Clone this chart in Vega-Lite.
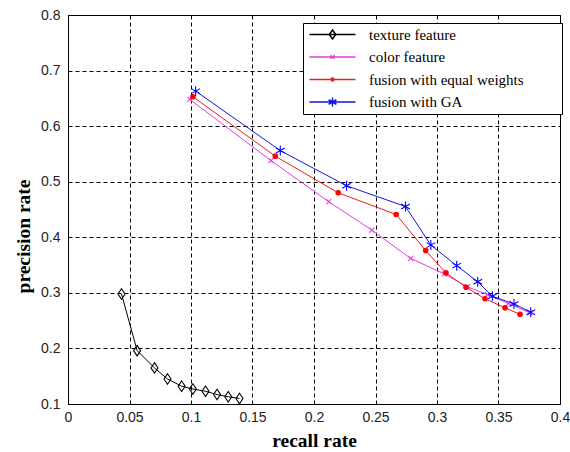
{
  "$schema": "https://vega.github.io/schema/vega-lite/v6.json",
  "width": 492,
  "height": 389,
  "autosize": {"type": "none"},
  "padding": {"left": 68, "top": 15, "right": 10, "bottom": 48},
  "background": "white",
  "config": {
    "view": {"stroke": "black", "strokeWidth": 1},
    "axis": {
      "grid": true, "gridColor": "black", "gridDash": [4, 3], "gridOpacity": 1, "gridWidth": 1,
      "domain": false, "ticks": false,
      "labelFont": "Liberation Sans", "labelFontSize": 14, "labelColor": "#222",
      "titleFont": "Liberation Serif", "titleFontSize": 19.5, "titleFontWeight": "bold", "titleColor": "black"
    },
    "legend": {
      "labelFont": "Liberation Serif", "labelFontSize": 15, "labelColor": "black"
    }
  },
  "data": {
    "values": [
      {"series": "texture feature", "x": 0.0435, "y": 0.298},
      {"series": "texture feature", "x": 0.0562, "y": 0.196},
      {"series": "texture feature", "x": 0.0703, "y": 0.165},
      {"series": "texture feature", "x": 0.0809, "y": 0.145},
      {"series": "texture feature", "x": 0.0924, "y": 0.132},
      {"series": "texture feature", "x": 0.1015, "y": 0.127},
      {"series": "texture feature", "x": 0.1118, "y": 0.123},
      {"series": "texture feature", "x": 0.1212, "y": 0.117},
      {"series": "texture feature", "x": 0.1303, "y": 0.113},
      {"series": "texture feature", "x": 0.1394, "y": 0.110},
      {"series": "color feature", "x": 0.099, "y": 0.648},
      {"series": "color feature", "x": 0.165, "y": 0.538},
      {"series": "color feature", "x": 0.212, "y": 0.464},
      {"series": "color feature", "x": 0.247, "y": 0.413},
      {"series": "color feature", "x": 0.2786, "y": 0.362},
      {"series": "color feature", "x": 0.306, "y": 0.334},
      {"series": "color feature", "x": 0.3246, "y": 0.311},
      {"series": "color feature", "x": 0.341, "y": 0.297},
      {"series": "color feature", "x": 0.358, "y": 0.281},
      {"series": "color feature", "x": 0.3756, "y": 0.264},
      {"series": "fusion with equal weights", "x": 0.1015, "y": 0.653},
      {"series": "fusion with equal weights", "x": 0.1685, "y": 0.546},
      {"series": "fusion with equal weights", "x": 0.2197, "y": 0.480},
      {"series": "fusion with equal weights", "x": 0.2668, "y": 0.441},
      {"series": "fusion with equal weights", "x": 0.2908, "y": 0.376},
      {"series": "fusion with equal weights", "x": 0.3073, "y": 0.336},
      {"series": "fusion with equal weights", "x": 0.3236, "y": 0.310},
      {"series": "fusion with equal weights", "x": 0.339, "y": 0.2895},
      {"series": "fusion with equal weights", "x": 0.3553, "y": 0.273},
      {"series": "fusion with equal weights", "x": 0.3675, "y": 0.2614},
      {"series": "fusion with GA", "x": 0.1038, "y": 0.663},
      {"series": "fusion with GA", "x": 0.1726, "y": 0.556},
      {"series": "fusion with GA", "x": 0.2265, "y": 0.4926},
      {"series": "fusion with GA", "x": 0.2744, "y": 0.4554},
      {"series": "fusion with GA", "x": 0.295, "y": 0.3859},
      {"series": "fusion with GA", "x": 0.316, "y": 0.349},
      {"series": "fusion with GA", "x": 0.3331, "y": 0.320},
      {"series": "fusion with GA", "x": 0.345, "y": 0.294},
      {"series": "fusion with GA", "x": 0.3626, "y": 0.280},
      {"series": "fusion with GA", "x": 0.3762, "y": 0.265}
    ]
  },
  "encoding": {
    "x": {
      "field": "x", "type": "quantitative",
      "scale": {"domain": [0, 0.4], "nice": false, "zero": false},
      "axis": {"values": [0, 0.05, 0.1, 0.15, 0.2, 0.25, 0.3, 0.35, 0.4], "format": "~g",
               "labelFlush": false, "labelOverlap": false, "labelPadding": 6,
               "title": "recall rate", "titleY": 42, "titleBaseline": "alphabetic"}
    },
    "y": {
      "field": "y", "type": "quantitative",
      "scale": {"domain": [0.1, 0.8], "nice": false, "zero": false},
      "axis": {"values": [0.1, 0.2, 0.3, 0.4, 0.5, 0.6, 0.7, 0.8], "format": "~g",
               "labelFlush": false, "labelOverlap": false, "labelPadding": 8,
               "title": "precision rate", "titleX": -39, "titleY": 221, "titleAngle": -90,
               "titleAlign": "center", "titleBaseline": "alphabetic"}
    }
  },
  "resolve": {"scale": {"stroke": "independent", "shape": "independent", "fill": "independent"}},
  "layer": [
    {
      "mark": {"type": "line", "strokeWidth": 1},
      "encoding": {
        "stroke": {"field": "series", "type": "nominal", "legend": null,
          "scale": {"domain": ["texture feature", "color feature", "fusion with equal weights", "fusion with GA"],
                    "range": ["#000000", "#e040e0", "#e8201e", "#1414e0"]}},
        "detail": {"field": "series"}
      }
    },
    {
      "mark": {"type": "point", "filled": true, "strokeWidth": 1.1, "opacity": 1, "size": 100},
      "encoding": {
        "stroke": {"field": "series", "type": "nominal", "legend": null,
          "scale": {"domain": ["texture feature", "color feature", "fusion with equal weights", "fusion with GA"],
                    "range": ["#000000", "#e040e0", "#ff0000", "#0000ff"]}},
        "fill": {"field": "series", "type": "nominal", "legend": null,
          "scale": {"domain": ["texture feature", "color feature", "fusion with equal weights", "fusion with GA"],
                    "range": ["transparent", "transparent", "#ff0000", "transparent"]}},
        "shape": {"field": "series", "type": "nominal", "legend": null,
          "scale": {"domain": ["texture feature", "color feature", "fusion with equal weights", "fusion with GA"],
                    "range": [
                      "M0,-1.05L0.7,0L0,1.05L-0.7,0Z",
                      "M-0.5,-0.5L0.5,0.5M-0.5,0.5L0.5,-0.5",
                      "M-0.45,0A0.45,0.45 0 1,0 0.45,0A0.45,0.45 0 1,0 -0.45,0Z",
                      "M0,-1L0,1M-0.87,-0.5L0.87,0.5M-0.87,0.5L0.87,-0.5"
                    ]}}
      }
    },
    {
      "transform": [{"filter": "datum.x > 1"}],
      "mark": {"type": "point", "filled": true, "strokeWidth": 1, "opacity": 1},
      "encoding": {
        "shape": {"field": "series", "type": "nominal",
          "scale": {"domain": ["texture feature", "color feature", "fusion with equal weights", "fusion with GA"],
                    "range": [
                      "M-1,0H8.2M3.6,-0.9L4.25,0L3.6,0.9L2.95,0ZM48,0",
                      "M-1,0H8.2M3.2,-0.35L4,0.35M3.2,0.35L4,-0.35M48,0",
                      "M-1,0H8.2M3.3,0A0.3,0.3 0 1,0 3.9,0A0.3,0.3 0 1,0 3.3,0ZM48,0",
                      "M-1,0H8.2M3.6,-0.9L3.6,0.9M2.82,-0.45L4.38,0.45M2.82,0.45L4.38,-0.45M48,0"
                    ]},
          "legend": {"orient": "none", "legendX": 235, "legendY": 8, "title": null,
                     "strokeColor": "black", "fillColor": "white", "padding": 4,
                     "symbolSize": 100, "labelOffset": 47, "rowPadding": 6.5, "labelLimit": 400}},
        "stroke": {"field": "series", "type": "nominal",
          "scale": {"domain": ["texture feature", "color feature", "fusion with equal weights", "fusion with GA"],
                    "range": ["#000000", "#e040e0", "#e8201e", "#1414e0"]}},
        "fill": {"field": "series", "type": "nominal",
          "scale": {"domain": ["texture feature", "color feature", "fusion with equal weights", "fusion with GA"],
                    "range": ["transparent", "transparent", "#ff0000", "transparent"]}}
      }
    }
  ]
}
